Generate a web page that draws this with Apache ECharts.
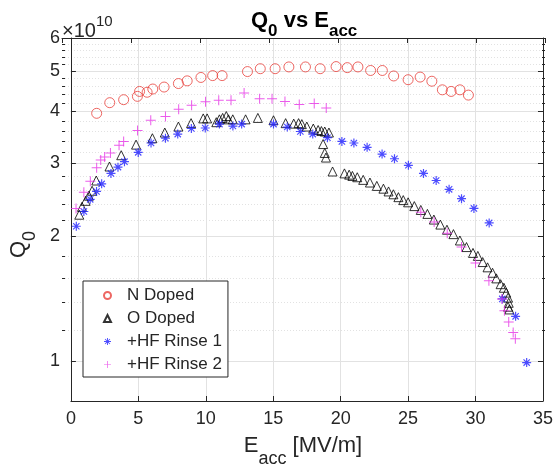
<!DOCTYPE html>
<html><head><meta charset="utf-8">
<script src="https://cdn.jsdelivr.net/npm/echarts@6/dist/echarts.min.js"></script>
<style>html,body{margin:0;padding:0;background:#fff}#c{width:556px;height:473px}</style>
</head><body><div id="c"></div>
<script>
// Q0 values in units of 1e10
const nDopedE=[1.91,2.88,3.91,4.93,5.09,5.65,6.07,6.91,7.97,8.62,9.64,10.51,11.21,13.09,14.04,15.14,16.16,17.39,18.48,19.66,20.49,21.28,22.22,23.09,23.93,25.0,25.89,26.76,27.54,28.19,28.84,29.47];
const nDopedQ=[3.95,4.19,4.26,4.34,4.46,4.44,4.52,4.57,4.66,4.73,4.82,4.87,4.87,4.98,5.06,5.06,5.11,5.11,5.06,5.12,5.09,5.11,5.01,5.01,4.86,4.76,4.83,4.72,4.50,4.46,4.50,4.37];
const oDopedE=[0.62,0.82,1.09,1.33,1.57,1.88,2.86,3.73,4.83,6.04,6.96,7.97,8.91,9.81,10.10,10.78,11.01,11.25,11.52,11.68,12.00,12.95,13.86,15.02,15.92,16.52,16.88,17.12,17.49,17.97,18.33,18.57,18.82,19.13,18.70,18.82,18.91,19.40,20.28,20.63,20.87,21.23,21.67,22.17,22.68,23.17,23.55,23.91,24.28,24.64,25.00,25.46,25.94,26.43,26.91,27.39,27.88,28.36,28.84,29.33,29.81,30.17,30.53,30.89,31.26,31.54,31.86,32.10,32.27,32.41,32.46,32.41,32.51];
const oDopedQ=[2.25,2.35,2.43,2.50,2.57,2.72,2.94,3.13,3.32,3.44,3.55,3.67,3.74,3.84,3.84,3.76,3.82,3.85,3.89,3.82,3.82,3.82,3.85,3.80,3.74,3.73,3.74,3.72,3.67,3.63,3.60,3.58,3.57,3.55,3.33,3.17,3.09,2.86,2.83,2.81,2.79,2.77,2.73,2.69,2.64,2.60,2.56,2.52,2.48,2.44,2.41,2.36,2.31,2.26,2.19,2.13,2.07,2.02,1.95,1.88,1.82,1.79,1.73,1.68,1.63,1.58,1.53,1.50,1.46,1.42,1.38,1.35,1.33];
const hf1E=[0.40,0.96,1.43,1.90,2.28,2.97,3.49,3.97,4.99,5.94,7.01,7.92,8.93,9.96,11.01,12.01,12.66,15.02,16.04,17.01,17.93,19.02,20.09,20.98,21.96,23.07,23.99,25.02,26.14,27.08,28.04,28.96,29.88,31.01,31.98,32.97,33.79];
const hf1Q=[2.11,2.29,2.45,2.56,2.67,2.83,2.93,3.02,3.18,3.35,3.44,3.52,3.63,3.64,3.72,3.68,3.72,3.72,3.66,3.57,3.52,3.45,3.38,3.35,3.27,3.15,3.07,2.96,2.83,2.72,2.59,2.46,2.33,2.15,1.41,1.28,0.99];
const hf2E=[0.38,0.96,1.44,1.91,2.21,2.50,2.93,3.57,3.91,4.94,5.92,7.01,7.99,8.95,9.98,10.96,11.87,12.84,13.99,14.91,15.87,16.93,18.04,18.93,25.94,26.93,27.90,28.96,30.00,30.99,31.96,32.14,32.46,32.79,32.95];
const hf2Q=[2.33,2.55,2.71,2.92,3.05,3.10,3.17,3.31,3.38,3.59,3.80,3.88,4.04,4.13,4.21,4.25,4.25,4.42,4.28,4.28,4.22,4.15,4.17,4.07,2.28,2.16,2.03,1.88,1.72,1.56,1.41,1.32,1.24,1.17,1.13];
const seriesNames=['N Doped','O Doped','+HF Rinse 1','+HF Rinse 2'];
const yMajorTicks=[1,2,3,4,5,6];
const yMinorTicks=[1.2,1.4,1.6,1.8,2.2,2.4,2.6,2.8,3.2,3.4,3.6,3.8,4.2,4.4,4.6,4.8,5.2,5.4,5.6,5.8];

const FONT='"Liberation Sans", Arial, Helvetica, sans-serif';
const AX='#262626';
const GRIDC='#e2e2e2';
const asterisk='path://M8.7,0L11.3,0L11.3,20L8.7,20Z M0,8.7L20,8.7L20,11.3L0,11.3Z M3.9,2.1L17.9,16.1L16.1,17.9L2.1,3.9Z M16.1,2.1L17.9,3.9L3.9,17.9L2.1,16.1Z';
const plus='path://M9,0L11,0L11,20L9,20Z M0,9L20,9L20,11L0,11Z';

function pairs(xs,ys){return xs.map((x,i)=>[x,ys[i]]);}
const gridRect={left:62,right:11,top:38,bottom:69};

const chart=echarts.init(document.getElementById('c'),null,{renderer:'canvas'});
const baseY={type:'log',logBase:10,min:0.8,max:6};
chart.setOption({
  animation:false,
  backgroundColor:'#fff',
  title:[
   {text:'{t|Q}{ts|0}{t| vs E}{ts|acc}',left:246,top:5,
    textStyle:{rich:{t:{fontSize:22,fontWeight:'bold',fontFamily:FONT,color:'#000',lineHeight:24,verticalAlign:'top'},
      ts:{fontSize:17,fontWeight:'bold',fontFamily:FONT,color:'#000',lineHeight:18,padding:[13,0,0,0],verticalAlign:'top'}}}},
   {text:'{b|×10}{e|10}',left:62,top:14,padding:0,
    textStyle:{rich:{b:{fontSize:20,fontFamily:FONT,color:AX,fontWeight:'normal',lineHeight:22,padding:[7,0,0,0],verticalAlign:'top'},
          e:{fontSize:15,fontFamily:FONT,color:AX,fontWeight:'normal',lineHeight:16,verticalAlign:'top'}}}}
  ],
  legend:{orient:'vertical',left:83,top:281,
    data:[{name:seriesNames[0],icon:'circle'},{name:seriesNames[1],icon:'triangle'},{name:seriesNames[2],icon:asterisk},{name:seriesNames[3],icon:plus}],
    backgroundColor:'#fff',borderColor:AX,borderWidth:1,padding:[6,6,4,20],itemGap:6,itemWidth:7,itemHeight:7,
    textStyle:{fontSize:17,fontFamily:FONT,color:AX,lineHeight:16,padding:[0,0,0,11]}},
  grid:[Object.assign({},gridRect),Object.assign({},gridRect)],
  xAxis:[
    {gridIndex:0,type:'value',min:0,max:35,interval:5,position:'bottom',
     axisLine:{show:true,onZero:false,lineStyle:{color:AX}},
     axisTick:{show:true,inside:true,length:5,lineStyle:{color:AX}},
     axisLabel:{fontSize:18,fontFamily:FONT,color:AX,margin:9},
     splitLine:{show:true,lineStyle:{color:GRIDC}},
     name:'{e|E}{s|acc}{e| [MV/m]}',nameLocation:'middle',nameGap:34,
     nameTextStyle:{padding:[0,8,0,0],rich:{e:{fontSize:22,fontFamily:FONT,color:AX,lineHeight:24,verticalAlign:'top'},
       s:{fontSize:18,fontFamily:FONT,color:AX,lineHeight:18,padding:[15,0,0,0],verticalAlign:'top'}}}},
    {gridIndex:1,type:'value',min:0,max:35,interval:5,position:'top',
     axisLine:{show:true,onZero:false,lineStyle:{color:AX}},
     axisTick:{show:true,inside:true,length:5,lineStyle:{color:AX}},
     axisLabel:{show:false},splitLine:{show:false}}
  ],
  yAxis:[
    Object.assign({gridIndex:0,position:'left',
     axisLine:{show:true,onZero:false,lineStyle:{color:AX}},
     axisTick:{show:true,inside:true,length:5,lineStyle:{color:AX},customValues:yMajorTicks},
     axisLabel:{customValues:yMajorTicks,fontSize:18,fontFamily:FONT,color:AX,margin:11,formatter:v=>String(Math.round(v))},
     splitLine:{show:true,lineStyle:{color:GRIDC}},
     name:'{e|Q}{s|0}',nameLocation:'middle',nameGap:28,nameRotate:90,
     nameTextStyle:{padding:[0,50,0,0],rich:{e:{fontSize:22,fontFamily:FONT,color:AX,lineHeight:24,verticalAlign:'top'},
       s:{fontSize:18,fontFamily:FONT,color:AX,lineHeight:18,padding:[13,0,0,0],verticalAlign:'top'}}}},baseY),
    Object.assign({gridIndex:0,position:'right',
     axisLine:{show:true,onZero:false,lineStyle:{color:AX}},
     axisTick:{show:true,inside:true,length:5,lineStyle:{color:AX},customValues:yMajorTicks},
     axisLabel:{show:false,customValues:yMajorTicks},splitLine:{show:false}},baseY),
    Object.assign({gridIndex:1,position:'left',
     axisLine:{show:false},
     axisTick:{show:true,inside:true,length:3,lineStyle:{color:AX},customValues:yMinorTicks},
     axisLabel:{show:false,customValues:yMinorTicks},
     splitLine:{show:true,lineStyle:{color:GRIDC,type:[1,2]}}},baseY),
    Object.assign({gridIndex:1,position:'right',
     axisLine:{show:false},
     axisTick:{show:true,inside:true,length:3,lineStyle:{color:AX},customValues:yMinorTicks},
     axisLabel:{show:false,customValues:yMinorTicks},splitLine:{show:false}},baseY)
  ],
  series:[
    {name:seriesNames[0],type:'scatter',xAxisIndex:0,yAxisIndex:0,symbol:'circle',symbolSize:10,
     itemStyle:{color:'rgba(0,0,0,0)',borderColor:'#e8413c',borderWidth:1},data:pairs(nDopedE,nDopedQ)},
    {name:seriesNames[1],type:'scatter',xAxisIndex:0,yAxisIndex:0,symbol:'triangle',symbolSize:9,
     itemStyle:{color:'rgba(0,0,0,0)',borderColor:'#000',borderWidth:1},data:pairs(oDopedE,oDopedQ)},
    {name:seriesNames[2],type:'scatter',xAxisIndex:0,yAxisIndex:0,symbol:asterisk,symbolSize:9,
     itemStyle:{color:'#1f1fff'},data:pairs(hf1E,hf1Q)},
    {name:seriesNames[3],type:'scatter',xAxisIndex:0,yAxisIndex:0,symbol:plus,symbolSize:10,
     itemStyle:{color:'#e632e6'},data:pairs(hf2E,hf2Q)}
  ]
});
</script></body></html>
